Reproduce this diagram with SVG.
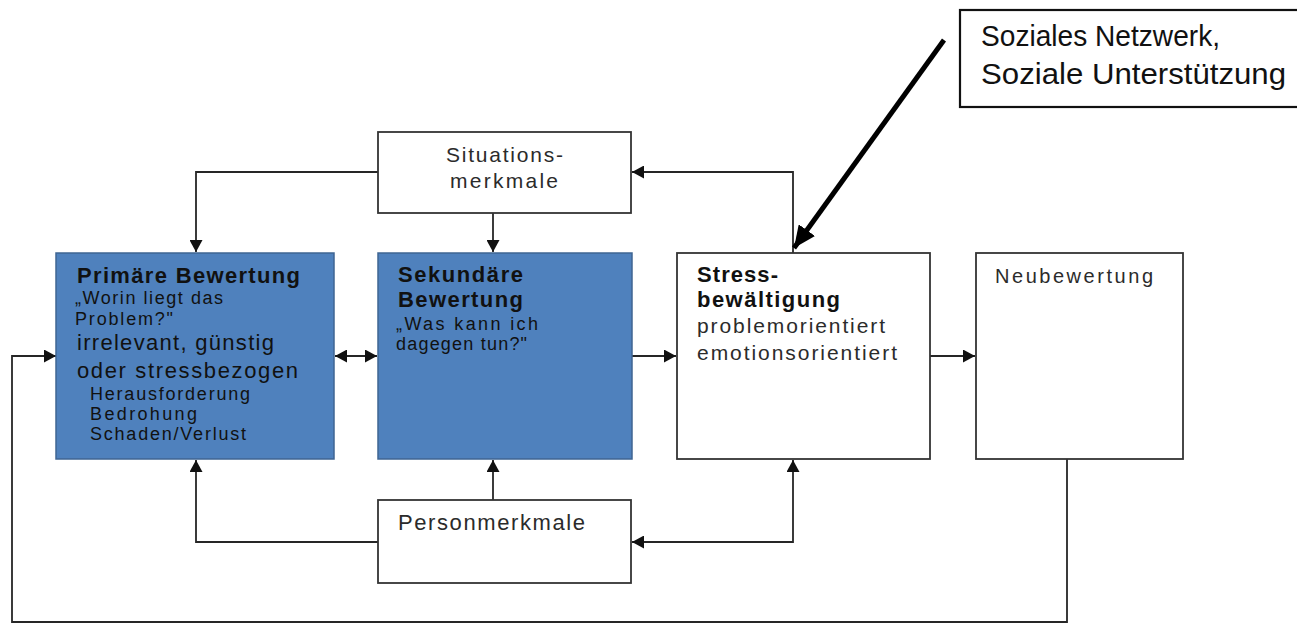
<svg xmlns="http://www.w3.org/2000/svg" width="1297" height="624" viewBox="0 0 1297 624">
<style>
.blue{fill:#4f81bd;stroke:#3f6593;stroke-width:1.5}
.white{fill:#ffffff;stroke:#333333;stroke-width:1.8}
.t{font-family:"Liberation Sans",Arial,sans-serif;fill:#111111}
.g{font-family:"Liberation Sans",Arial,sans-serif;fill:#2b2b2b}
.b{font-weight:bold}
.con{fill:none;stroke:#262626;stroke-width:1.8}
</style>
<defs>
<marker id="ah" markerUnits="userSpaceOnUse" markerWidth="13" markerHeight="13" refX="12" refY="6.5" orient="auto-start-reverse">
<path d="M0,0 L12,6.5 L0,13 z" fill="#111"/>
</marker>
<marker id="big" markerUnits="userSpaceOnUse" markerWidth="24" markerHeight="20" refX="22" refY="10" orient="auto">
<path d="M0,0 L22,10 L0,20 z" fill="#000"/>
</marker>
</defs>
<rect x="0" y="0" width="1297" height="624" fill="#ffffff"/>

<g id="connectors">
<polyline class="con" points="378,172 196,172 196,252" marker-end="url(#ah)"/>
<line class="con" x1="493" y1="213" x2="493" y2="252" marker-end="url(#ah)"/>
<polyline class="con" points="793,253 793,172 632,172" marker-end="url(#ah)"/>
<line class="con" x1="335" y1="356" x2="377" y2="356" marker-start="url(#ah)" marker-end="url(#ah)"/>
<line class="con" x1="632" y1="356" x2="676" y2="356" marker-end="url(#ah)"/>
<line class="con" x1="930" y1="356" x2="975" y2="356" marker-end="url(#ah)"/>
<line class="con" x1="493" y1="500" x2="493" y2="460" marker-end="url(#ah)"/>
<polyline class="con" points="378,542 196,542 196,460" marker-end="url(#ah)"/>
<polyline class="con" points="793,460 793,542 632,542" marker-start="url(#ah)" marker-end="url(#ah)"/>
<polyline class="con" points="1067,459 1067,622 12,622 12,356 56,356" marker-end="url(#ah)"/>
<line x1="944" y1="40" x2="794" y2="248" stroke="#000" stroke-width="5" marker-end="url(#big)"/>
</g>

<g id="soziales">
<rect x="960" y="10" width="340" height="97" fill="#fff" stroke="#111" stroke-width="2.2"/>
<text class="t" x="981" y="46" font-size="29" textLength="239" lengthAdjust="spacingAndGlyphs">Soziales Netzwerk,</text>
<text class="t" x="981" y="84" font-size="29" textLength="305" lengthAdjust="spacingAndGlyphs">Soziale Unterstützung</text>
</g>

<g id="situationsmerkmale">
<rect class="white" x="378" y="132" width="253" height="81"/>
<text class="g" x="446" y="162" font-size="21" textLength="117" lengthAdjust="spacing">Situations-</text>
<text class="g" x="450" y="188" font-size="21" textLength="108" lengthAdjust="spacing">merkmale</text>
</g>

<g id="primaere">
<rect class="blue" x="56" y="253" width="278" height="206"/>
<text class="t b" x="77" y="283" font-size="22" textLength="223" lengthAdjust="spacing">Primäre Bewertung</text>
<text class="t" x="75" y="304" font-size="18" textLength="148" lengthAdjust="spacing">„Worin liegt das</text>
<text class="t" x="75" y="325" font-size="18" textLength="98" lengthAdjust="spacing">Problem?"</text>
<text class="t" x="77" y="350" font-size="22" textLength="197" lengthAdjust="spacing">irrelevant, günstig</text>
<text class="t" x="77" y="378" font-size="22" textLength="221" lengthAdjust="spacing">oder stressbezogen</text>
<text class="t" x="90" y="400" font-size="18" textLength="160" lengthAdjust="spacing">Herausforderung</text>
<text class="t" x="90" y="420" font-size="18" textLength="107" lengthAdjust="spacing">Bedrohung</text>
<text class="t" x="90" y="440" font-size="18" textLength="156" lengthAdjust="spacing">Schaden/Verlust</text>
</g>

<g id="sekundaere">
<rect class="blue" x="378" y="253" width="254" height="206"/>
<text class="t b" x="398" y="282" font-size="22" textLength="125" lengthAdjust="spacing">Sekundäre</text>
<text class="t b" x="398" y="307" font-size="22" textLength="125" lengthAdjust="spacing">Bewertung</text>
<text class="t" x="396" y="330" font-size="18" textLength="142" lengthAdjust="spacing">„Was kann ich</text>
<text class="t" x="396" y="350" font-size="18" textLength="131" lengthAdjust="spacing">dagegen tun?"</text>
</g>

<g id="stressbewaeltigung">
<rect class="white" x="677" y="253" width="253" height="206"/>
<text class="t b" x="697" y="282" font-size="22" textLength="81" lengthAdjust="spacing">Stress-</text>
<text class="t b" x="697" y="307" font-size="22" textLength="143" lengthAdjust="spacing">bewältigung</text>
<text class="g" x="697" y="333" font-size="21" textLength="188" lengthAdjust="spacing">problemorientiert</text>
<text class="g" x="697" y="360" font-size="21" textLength="200" lengthAdjust="spacing">emotionsorientiert</text>
</g>

<g id="neubewertung">
<rect class="white" x="976" y="253" width="207" height="206"/>
<text class="g" x="995" y="283" font-size="20" textLength="158" lengthAdjust="spacing">Neubewertung</text>
</g>

<g id="personmerkmale">
<rect class="white" x="378" y="500" width="253" height="83"/>
<text class="g" x="398" y="530" font-size="22" textLength="187" lengthAdjust="spacing">Personmerkmale</text>
</g>
</svg>
